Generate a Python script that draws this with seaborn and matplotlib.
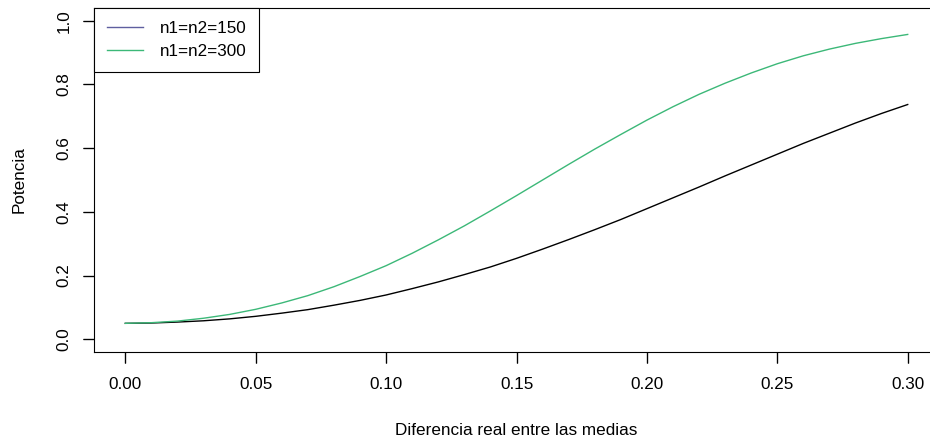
import matplotlib
matplotlib.use("Agg")
import matplotlib.pyplot as plt
from matplotlib.lines import Line2D
from matplotlib.patches import Rectangle
import seaborn as sns
import pandas as pd

# Data
diferencia = [0.00, 0.01, 0.02, 0.03, 0.04, 0.05, 0.06, 0.07, 0.08, 0.09,
              0.10, 0.11, 0.12, 0.13, 0.14, 0.15, 0.16, 0.17, 0.18, 0.19,
              0.20, 0.21, 0.22, 0.23, 0.24, 0.25, 0.26, 0.27, 0.28, 0.29, 0.30]
potencia_150 = [0.050, 0.051, 0.054, 0.058, 0.064, 0.072, 0.082, 0.093, 0.107, 0.122,
                0.139, 0.159, 0.180, 0.203, 0.227, 0.254, 0.283, 0.313, 0.344, 0.376,
                0.410, 0.444, 0.478, 0.513, 0.547, 0.581, 0.615, 0.647, 0.679, 0.709, 0.737]
potencia_300 = [0.050, 0.052, 0.057, 0.066, 0.078, 0.094, 0.114, 0.137, 0.165, 0.197,
                0.231, 0.270, 0.312, 0.356, 0.403, 0.451, 0.500, 0.549, 0.597, 0.643,
                0.688, 0.730, 0.769, 0.804, 0.836, 0.865, 0.890, 0.911, 0.929, 0.944, 0.957]
legend_labels = ["n1=n2=150", "n1=n2=300"]
x_ticks = [0.00, 0.05, 0.10, 0.15, 0.20, 0.25, 0.30]
y_ticks = [0.0, 0.2, 0.4, 0.6, 0.8, 1.0]

plt.rcParams['font.family'] = ['Liberation Sans', 'DejaVu Sans']

FS = 12.3
W, H = 930, 440
AX_L, AX_R, AX_T, AX_B = 94, 939, 8, 352
TICK_PX = 11
fig = plt.figure(figsize=(W / 100, H / 100), dpi=100)
fig.patch.set_facecolor("white")
ax = fig.add_axes([AX_L / W, (H - AX_B) / H, (AX_R - AX_L) / W, (AX_B - AX_T) / H])
ax.set_facecolor("white")

df = pd.DataFrame({"d": diferencia, "p150": potencia_150, "p300": potencia_300})
sns.lineplot(data=df, x="d", y="p150", ax=ax, color="black", linewidth=1.0)
sns.lineplot(data=df, x="d", y="p300", ax=ax, color="#3cb878", linewidth=1.0)

ax.set_xlim(-0.012, 0.312)
ax.set_ylim(-0.04, 1.04)
ax.set_xticks(x_ticks)
ax.set_xticklabels([f"{v:.2f}" for v in x_ticks])
ax.set_yticks(y_ticks)
ax.set_yticklabels([f"{v:.1f}" for v in y_ticks], rotation=90, va="center")

for s in ax.spines.values():
    s.set_visible(True)
    s.set_color("black")
    s.set_linewidth(0.8)

ax.tick_params(axis="both", which="major", direction="out", length=8, width=0.8,
               color="black", labelsize=FS, labelcolor="black",
               bottom=True, left=True, top=False, right=False)
ax.tick_params(axis="x", pad=10)
ax.tick_params(axis="y", pad=8)

# explicit R-style tick marks as thin patches at the tick values
tx = -TICK_PX / (AX_B - AX_T)
ty = -TICK_PX / (AX_R - AX_L)
for v in x_ticks:
    ax.add_patch(Rectangle((v, tx), 0, -tx, transform=ax.get_xaxis_transform(),
                           clip_on=False, edgecolor="black", facecolor="black",
                           linewidth=0.9, zorder=5))
for v in y_ticks:
    ax.add_patch(Rectangle((ty, v), -ty, 0, transform=ax.get_yaxis_transform(),
                           clip_on=False, edgecolor="black", facecolor="black",
                           linewidth=0.9, zorder=5))

ax.set_xlabel("Diferencia real entre las medias", fontsize=FS, labelpad=22)
ax.set_ylabel("Potencia", fontsize=FS, labelpad=22)

handles = [Line2D([0], [0], color="#5f5f9f", lw=1.0),
           Line2D([0], [0], color="#3cb878", lw=1.0)]
leg = ax.legend(handles, legend_labels, loc="upper left", bbox_to_anchor=(0, 1),
                borderaxespad=0, fancybox=False, framealpha=1, edgecolor="black",
                fontsize=FS, handlelength=2.1, handletextpad=1.0, borderpad=0.75,
                labelspacing=0.5)
leg.get_frame().set_linewidth(0.8)

fig.savefig("out.png", dpi=100, facecolor="white")
